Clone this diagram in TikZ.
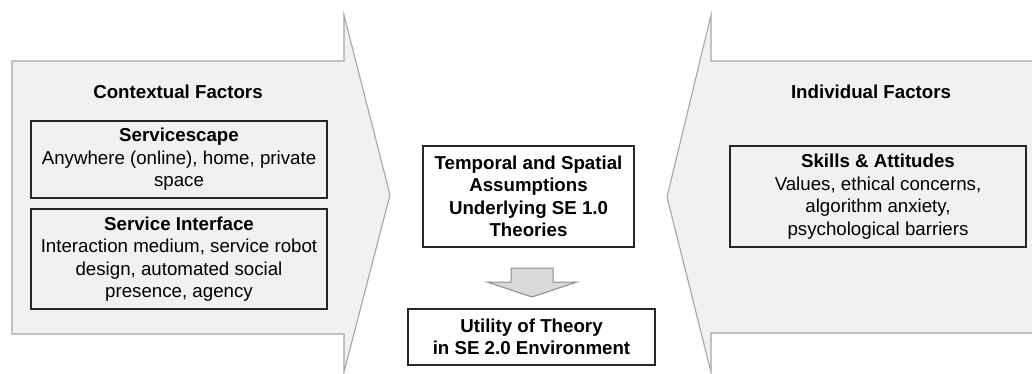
\documentclass[tikz,border=0pt]{standalone}
\usepackage{fontspec}
\setmainfont{Liberation Sans}
\definecolor{bandfill}{HTML}{F1F1F1}
\definecolor{bandline}{HTML}{A6A6A6}
\definecolor{downfill}{HTML}{D9D9D9}
\definecolor{downline}{HTML}{8C8C8C}
\begin{document}
\begin{tikzpicture}[x=1pt,y=-1pt,
  every node/.style={font=\fontsize{18.7pt}{22.5pt}\selectfont, inner sep=0pt},
  band/.style={fill=bandfill, draw=bandline, line width=1.1pt, line join=miter},
  factorbox/.style={draw=black!85, line width=1.2pt, align=center},
  theorybox/.style={draw=black!85, fill=white, line width=1.2pt, align=center, font=\fontsize{18.7pt}{22.5pt}\selectfont\bfseries},
  title/.style={font=\fontsize{18.7pt}{22.5pt}\selectfont\bfseries}]
\useasboundingbox (0,0) rectangle (1032,374);

% left band: arrow pointing right
\path[band] (12,61) -- (344,61) -- (344,15) -- (390,195) -- (344,372) -- (344,334) -- (12,334) -- cycle;

% right band: arrow pointing left, running off the right edge
\fill[bandfill] (1032,61) -- (711,61) -- (711,15) -- (667,197) -- (711,372) -- (711,333) -- (1032,333) -- cycle;
\draw[bandline, line width=1.1pt, line join=miter] (1032,61) -- (711,61) -- (711,15) -- (667,197) -- (711,372) -- (711,333) -- (1032,333);

% contextual factors
\node[title] (ctx) at (178,92) {Contextual Factors};
\node[factorbox, minimum width=296pt, minimum height=77pt] (scape) at (179,159.5)
  {\textbf{Servicescape}\\Anywhere (online), home, private\\space};
\node[factorbox, minimum width=296pt, minimum height=100pt] (iface) at (179,259)
  {\textbf{Service Interface}\\Interaction medium, service robot\\design, automated social\\presence, agency};

% individual factors
\node[title] (ind) at (871,92) {Individual Factors};
\node[factorbox, minimum width=296pt, minimum height=101pt] (skills) at (878,196.5)
  {\textbf{Skills \& Attitudes}\\Values, ethical concerns,\\algorithm anxiety,\\psychological barriers};

% theory boxes
\node[theorybox, minimum width=211pt, minimum height=101pt] (temporal) at (528.5,196.5)
  {Temporal and Spatial\\Assumptions\\Underlying SE 1.0\\Theories};
\node[theorybox, minimum width=247pt, minimum height=56pt] (utility) at (531.5,337)
  {Utility of Theory\\in SE 2.0 Environment};

% block arrow from the assumptions to the utility of theory
\draw[fill=downfill, draw=downline, line width=1pt, line join=miter]
  (511,268) -- (553,268) -- (553,282) -- (577,282) -- (532,297) -- (487,282) -- (511,282) -- cycle;
\end{tikzpicture}
\end{document}
